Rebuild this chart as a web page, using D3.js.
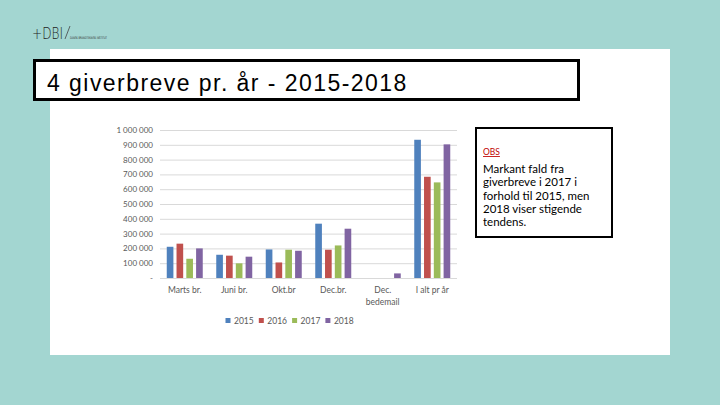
<!DOCTYPE html>
<html>
<head>
<meta charset="utf-8">
<script src="https://cdn.jsdelivr.net/npm/d3@7"></script>
<style>
  body { margin: 0; background: #a3d6d1; }
  svg { display: block; }
</style>
</head>
<body>
<svg width="720" height="405"></svg>
<script>
// data
const categories = ["Marts br.", "Juni br.", "Okt.br", "Dec.br.", "Dec. bedemail", "I alt pr år"];
const years = ["2015", "2016", "2017", "2018"];
const v2015 = [211000, 157000, 193000, 367000, null, 934000];
const v2016 = [232000, 151000, 105000, 191000, null, 684000];
const v2017 = [130000, 99000, 191000, 220000, null, 646000];
const v2018 = [200000, 144000, 184000, 333000, 31000, 903000];
const yTicks = [0, 100000, 200000, 300000, 400000, 500000, 600000, 700000, 800000, 900000, 1000000];
const colors = ["#4f81bd", "#c0504d", "#9bbb59", "#8064a2"];
const noteLines = ["Markant fald fra", "giverbreve i 2017 i", "forhold til 2015, men", "2018 viser stigende", "tendens."];

const series = [v2015, v2016, v2017, v2018];

const svg = d3.select("svg");

// slide panel
svg.append("rect")
    .attr("x", 50).attr("y", 49)
    .attr("width", 620).attr("height", 306)
    .attr("fill", "#fff");

// logo
svg.append("text")
    .attr("x", 32).attr("y", 39)
    .attr("font-family", "DejaVu Sans, sans-serif")
    .attr("font-size", 16)
    .attr("font-weight", 300)
    .attr("textLength", 31)
    .attr("lengthAdjust", "spacingAndGlyphs")
    .attr("fill", "#222")
    .text("+DBI");
svg.append("line")
    .attr("x1", 65).attr("y1", 39).attr("x2", 70).attr("y2", 26)
    .attr("stroke", "#444").attr("stroke-width", 0.8);
svg.append("text")
    .attr("x", 70).attr("y", 39)
    .attr("font-family", "DejaVu Sans, sans-serif")
    .attr("font-size", 3.6)
    .attr("textLength", 37)
    .attr("lengthAdjust", "spacingAndGlyphs")
    .attr("fill", "#333")
    .text("DANSK BRANDTEKNISK INSTITUT");

// title box
svg.append("rect")
    .attr("x", 34.5).attr("y", 60.5)
    .attr("width", 544).attr("height", 39)
    .attr("fill", "#fff")
    .attr("stroke", "#000").attr("stroke-width", 3);
svg.append("text")
    .attr("x", 47).attr("y", 91)
    .attr("font-family", "Liberation Sans, Arial, sans-serif")
    .attr("font-size", 23)
    .attr("letter-spacing", 1.45)
    .attr("fill", "#000")
    .text("4 giverbreve pr. år - 2015-2018");

// chart
const area = { left: 160, right: 457, top: 130, bottom: 278 };

const scX = d3.scaleBand()
    .domain(categories)
    .range([area.left, area.right]);

const scInner = d3.scaleBand()
    .domain(years)
    .range([0, 36])
    .paddingInner(0.32);

const scY = d3.scaleLinear()
    .domain([0, 1000000])
    .range([area.bottom, area.top]);

const fmt = d => d === 0 ? "-" : d3.format(",")(d).replace(/,/g, " ");

const axisY = d3.axisLeft(scY)
    .tickValues(yTicks)
    .tickSize(-(area.right - area.left))
    .tickFormat(fmt);

const gY = svg.append("g")
    .attr("transform", `translate(${area.left}, 0)`)
    .call(axisY);
gY.select(".domain").remove();
gY.selectAll(".tick line")
    .attr("stroke", "#d9d9d9")
    .attr("stroke-width", 1);
gY.selectAll(".tick text")
    .attr("x", -7)
    .attr("fill", "#595959")
    .attr("font-family", "Lato, sans-serif")
    .attr("font-size", 8);

// bars
const offset = (scX.bandwidth() - 36) / 2;
series.forEach((vals, i) => {
    const rows = categories.map((c, j) => ({ cat: c, v: vals[j] })).filter(d => d.v != null);
    svg.selectAll(".bar-" + years[i])
        .data(rows).enter()
        .append("rect")
        .attr("class", "bar-" + years[i])
        .attr("x", d => scX(d.cat) + offset + scInner(years[i]))
        .attr("y", d => scY(d.v))
        .attr("width", scInner.bandwidth())
        .attr("height", d => scY(0) - scY(d.v))
        .attr("fill", colors[i]);
});

// x labels
const xLab = svg.append("g");
categories.forEach(c => {
    const words = c === "Dec. bedemail" ? ["Dec.", "bedemail"] : [c];
    const t = xLab.append("text")
        .attr("x", scX(c) + scX.bandwidth() / 2)
        .attr("y", 293)
        .attr("text-anchor", "middle")
        .attr("fill", "#595959")
        .attr("font-family", "Lato, sans-serif")
        .attr("font-size", 8.5);
    words.forEach((w, k) => {
        t.append("tspan")
            .attr("x", scX(c) + scX.bandwidth() / 2)
            .attr("dy", k === 0 ? 0 : 11.5)
            .text(w);
    });
});

// legend
const legend = svg.append("g");
years.forEach((y, i) => {
    const lx = 228 + i * 33.3;
    legend.append("rect")
        .attr("x", lx - 2.5).attr("y", 318)
        .attr("width", 5).attr("height", 5)
        .attr("fill", colors[i]);
    legend.append("text")
        .attr("x", lx + 6).attr("y", 323.5)
        .attr("fill", "#595959")
        .attr("font-family", "Lato, sans-serif")
        .attr("font-size", 8.5)
        .text(y);
});

// note box
svg.append("rect")
    .attr("x", 476).attr("y", 128)
    .attr("width", 136).attr("height", 109)
    .attr("fill", "#fff")
    .attr("stroke", "#000").attr("stroke-width", 2);
svg.append("text")
    .attr("x", 483).attr("y", 155)
    .attr("fill", "#c00000")
    .attr("font-family", "Lato, sans-serif")
    .attr("font-size", 8.5)
    .attr("text-decoration", "underline")
    .text("OBS");
noteLines.forEach((line, k) => {
    svg.append("text")
        .attr("x", 483).attr("y", 173 + k * 13.3)
        .attr("fill", "#000")
        .attr("font-family", "Lato, sans-serif")
        .attr("font-size", 11.5)
        .text(line);
});
</script>
</body>
</html>
